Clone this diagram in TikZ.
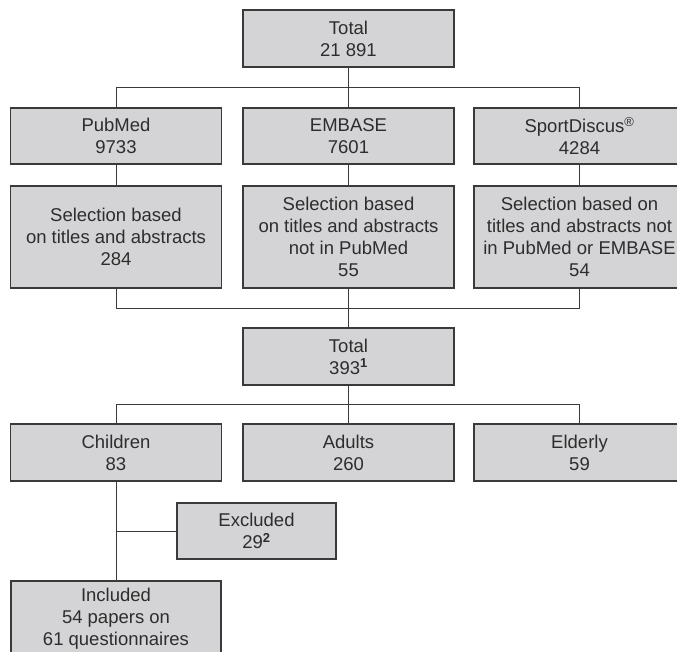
\documentclass[tikz,border=0pt]{standalone}
\usepackage{fontspec}
\setmainfont{Liberation Sans}
\definecolor{boxgray}{RGB}{212,212,214}
\definecolor{linegray}{RGB}{58,58,58}
\definecolor{txtgray}{RGB}{45,45,45}
\tikzset{
  flowbox/.style={draw=linegray, line width=1.2pt, fill=boxgray, text=txtgray,
    align=center, minimum width=211pt, minimum height=56pt, inner sep=4pt,
    font=\fontsize{18.5}{22}\selectfont},
  link/.style={draw=linegray, line width=1pt}
}
\begin{document}
\begin{tikzpicture}[x=1pt,y=-1pt]
			\useasboundingbox (0,0) rectangle (677,652);
			\clip (0,0) rectangle (677,652);
			\node[flowbox, minimum height=57pt] (total) at (348.5,38.5) {Total\\21 891};
			\foreach \nm/\txt/\x in {pub/{PubMed\\9733}/116, emb/{EMBASE\\7601}/348.5, sport/{SportDiscus\textsuperscript{\textregistered}\\4284}/579.5}{
				\node[flowbox] (\nm) at (\x,136) {\txt};
			}
			\foreach \nm/\txt/\x in {selpub/{Selection based\\on titles and abstracts\\284}/116, selemb/{Selection based\\on titles and abstracts\\not in PubMed\\55}/348.5, selsport/{Selection based on\\titles and abstracts not\\in PubMed or EMBASE\\54}/579.5}{
				\node[flowbox, minimum height=102pt] (\nm) at (\x,237) {\txt};
			}
			\node[flowbox, minimum height=57pt] (sum) at (348.5,356.5) {Total\\393\textsuperscript{\textbf{1}}};
			\foreach \nm/\txt/\x in {child/{Children\\83}/116, adult/{Adults\\260}/348.5, elder/{Elderly\\59}/579.5}{
				\node[flowbox, minimum height=57pt] (\nm) at (\x,452.5) {\txt};
			}
			\node[flowbox, minimum width=159pt] (excl) at (256.5,531) {Excluded\\29\textsuperscript{\textbf{2}}};
			\node[flowbox, minimum width=210pt, minimum height=76pt] (incl) at (116,619) {Included\\54 papers on\\61 questionnaires};

			\draw[link] (total.south) -- ++(0,20) coordinate (top bus);
			\foreach \nm in {pub,emb,sport}{
				\draw[link] (top bus) -| (\nm.north);
			}
			\foreach \a/\b in {pub/selpub,emb/selemb,sport/selsport}{
				\draw[link] (\a.south) -- (\b.north);
			}
			\path (selemb.south) ++(0,20) coordinate (mid bus);
			\foreach \nm in {selpub,selemb,selsport}{
				\draw[link] (\nm.south) |- (mid bus);
			}
			\draw[link] (mid bus) -- (sum.north);
			\draw[link] (sum.south) -- ++(0,19) coordinate (low bus);
			\foreach \nm in {child,adult,elder}{
				\draw[link] (low bus) -| (\nm.north);
			}
			\draw[link] (child.south) -- (incl.north);
			\draw[link] (excl.west) -- (excl.west -| child.south);

		\end{tikzpicture}
\end{document}
